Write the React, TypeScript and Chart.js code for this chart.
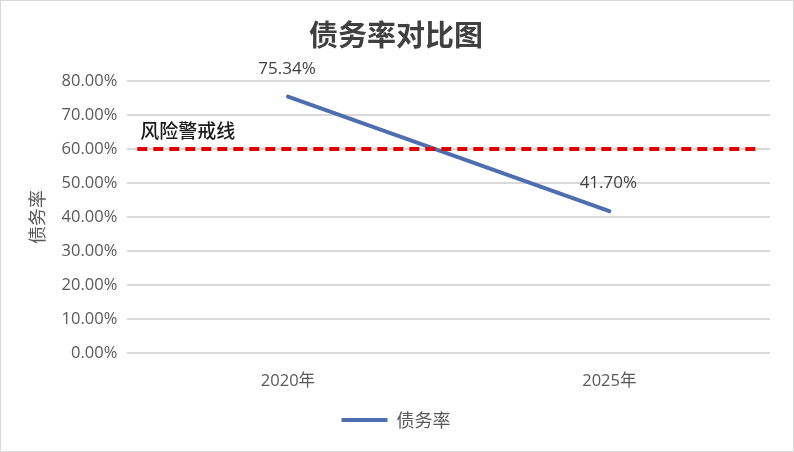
import React, { useEffect, useRef } from "react";
import { Chart, registerables } from "chart.js";

Chart.register(...registerables);

const categories = ["2020年", "2025年"];
const debtRatio = [75.34, 41.7];
const seriesName = "债务率";
const riskLine = 60;
const riskLabel = "风险警戒线";
const titleText = "债务率对比图";
const yTicksMax = 80;
const yTicksStep = 10;

const LATIN = "'Open Sans', 'Noto Sans CJK SC', sans-serif";
const CJK = "'Noto Sans CJK SC', sans-serif";

const overlayPlugin = {
  id: "overlay",
  afterDatasetsDraw(chart: any) {
    const { ctx, chartArea, scales } = chart;
    const y = scales.y.getPixelForValue(riskLine);
    ctx.save();
    ctx.strokeStyle = "#E00000";
    ctx.lineWidth = 4;
    ctx.setLineDash([10, 6]);
    ctx.beginPath();
    ctx.moveTo(chartArea.left + 10, y);
    ctx.lineTo(chartArea.right - 12, y);
    ctx.stroke();
    ctx.setLineDash([]);
    ctx.fillStyle = "#1a1a1a";
    ctx.font = "500 19px " + CJK;
    ctx.textAlign = "left";
    ctx.textBaseline = "middle";
    ctx.fillText(riskLabel, chartArea.left + 13, y - 18);

    const meta = chart.getDatasetMeta(0);
    ctx.font = "17px " + LATIN;
    ctx.fillStyle = "#404040";
    ctx.textAlign = "center";
    meta.data.forEach((pt: any, i: number) => {
      ctx.fillText(debtRatio[i].toFixed(2) + "%", pt.x - 1, pt.y - 28);
    });
    ctx.restore();
  },
};

const borderPlugin = {
  id: "frame",
  beforeDraw(chart: any) {
    const { ctx, width, height } = chart;
    ctx.save();
    ctx.fillStyle = "#ffffff";
    ctx.fillRect(0, 0, width, height);
    ctx.strokeStyle = "#d9d9d9";
    ctx.lineWidth = 1;
    ctx.strokeRect(0.5, 0.5, width - 1, height - 1);
    ctx.restore();
  },
};

export default function App() {
  const ref = useRef<HTMLCanvasElement>(null);
  useEffect(() => {
    if (!ref.current) return;
    const chart = new Chart(ref.current, {
      type: "line",
      data: {
        labels: categories,
        datasets: [
          {
            label: seriesName,
            data: debtRatio,
            borderColor: "#4F6EB0",
            backgroundColor: "#4F6EB0",
            borderWidth: 4,
            pointRadius: 0,
            pointHoverRadius: 0,
            tension: 0,
            pointStyle: "line",
            borderCapStyle: "round",
          },
        ],
      },
      options: {
        animation: false,
        responsive: false,
        maintainAspectRatio: false,
        layout: { padding: { left: 22, right: 24, top: 6, bottom: 13 } },
        plugins: {
          title: {
            display: true,
            text: titleText,
            color: "#404040",
            font: { family: CJK, size: 29, weight: "bold" },
            padding: { top: 12, bottom: 28 },
          },
          legend: {
            display: true,
            position: "bottom",
            labels: {
              usePointStyle: true,
              pointStyle: "line",
              pointStyleWidth: 46,
              color: "#595959",
              font: { family: CJK, size: 18 },
              padding: 10,
            },
          },
          tooltip: { enabled: false },
        },
        scales: {
          x: {
            offset: true,
            grid: { display: false },
            border: { display: false },
            ticks: {
              color: "#595959",
              font: { family: LATIN, size: 16.5 },
              padding: 10,
            },
          },
          y: {
            min: 0,
            max: yTicksMax,
            border: { display: false },
            grid: { color: "#d9d9d9", lineWidth: 2, drawTicks: false },
            title: {
              display: true,
              text: seriesName,
              color: "#595959",
              font: { family: CJK, size: 18 },
              padding: { bottom: 4 },
            },
            ticks: {
              stepSize: yTicksStep,
              color: "#595959",
              font: { family: LATIN, size: 16.5 },
              padding: 10,
              callback: (v: any) => Number(v).toFixed(2) + "%",
            },
          },
        },
      },
      plugins: [borderPlugin, overlayPlugin],
    });
    return () => chart.destroy();
  }, []);
  return (
    <div style={{ position: "fixed", left: 0, top: 0, width: 794, height: 452 }}>
      <canvas ref={ref} width={794} height={452} style={{ display: "block" }} />
    </div>
  );
}
